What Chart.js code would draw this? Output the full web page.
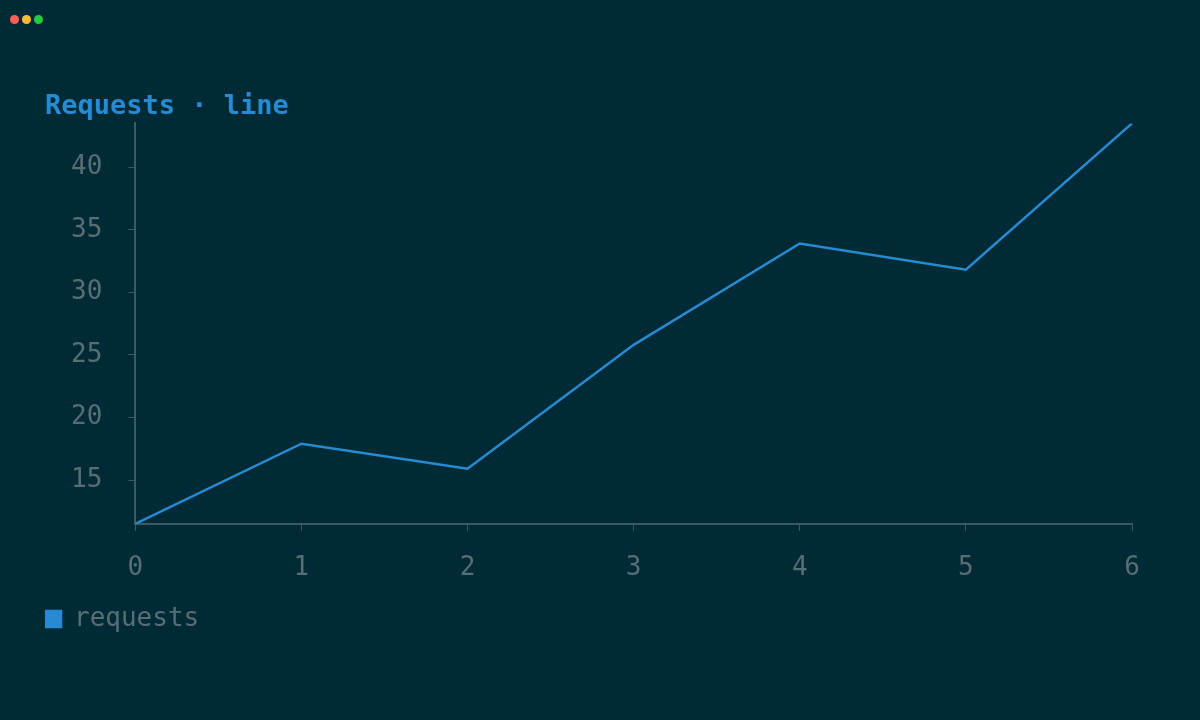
<!DOCTYPE html>
<html><head><meta charset="utf-8">
<script src="https://cdn.jsdelivr.net/npm/chart.js@4"></script>
<style>
html,body{margin:0;padding:0;background:#002b36;width:1200px;height:720px;overflow:hidden}
.dots{position:absolute;left:10px;top:10px}
.dots span{display:inline-block;width:9px;height:9px;border-radius:50%;margin-right:3px}
#wrap{position:absolute;left:0;top:80px;width:1200px;height:562px}
</style></head><body>
<div class="dots"><span style="background:#ff5f56"></span><span style="background:#ffbd2e"></span><span style="background:#27c93f"></span></div>
<div id="wrap"><canvas id="c"></canvas></div>
<script>
const categories = ["0","1","2","3","4","5","6"];
const requests = [11.5, 17.9, 15.9, 25.8, 33.9, 31.8, 43.5];
const yMin = 11.5, yMax = 43.5;
const grey = '#586e75', blue = '#268bd2', font = "'DejaVu Sans Mono', monospace";
new Chart(document.getElementById('c'), {
  type: 'line',
  data: { labels: categories, datasets: [{ label: 'requests', data: requests, borderColor: blue, backgroundColor: blue, borderWidth: 2.5, pointRadius: 0, tension: 0 }] },
  options: {
    responsive: true, maintainAspectRatio: false, animation: false,
    layout: { padding: { left: 45, right: 68, top: 0, bottom: 0 } },
    plugins: {
      title: { display: true, text: 'Requests · line', align: 'start', color: blue, font: { family: font, size: 27, weight: 'bold' }, padding: { top: 11, bottom: 0 } },
      legend: { position: 'bottom', align: 'start', labels: { color: grey, font: { family: font, size: 26 }, boxWidth: 16, boxHeight: 16, padding: 0 } },
      tooltip: { enabled: false }
    },
    scales: {
      x: { grid: { display: true, drawOnChartArea: false, color: '#3d5a63', tickLength: 7 }, border: { color: '#3d5a63', width: 2 },
           ticks: { color: grey, font: { family: font, size: 26 }, padding: 22 } },
      y: { min: yMin, max: yMax, grid: { display: true, drawOnChartArea: false, color: '#3d5a63', tickLength: 7 }, border: { color: '#3d5a63', width: 2 },
           afterBuildTicks: a => { a.ticks = a.ticks.filter(t => t.value % 5 === 0); },
           ticks: { stepSize: 5, color: grey, font: { family: font, size: 26 }, padding: 26 } }
    }
  }
});
</script></body></html>
